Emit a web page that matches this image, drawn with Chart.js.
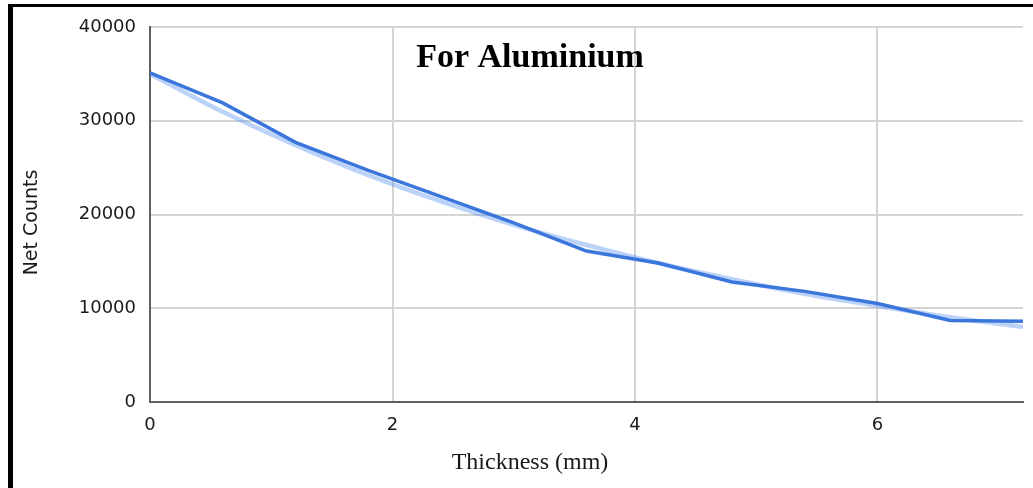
<!DOCTYPE html>
<html><head><meta charset="utf-8">
<script src="https://cdn.jsdelivr.net/npm/chart.js@4/dist/chart.umd.min.js"></script>
<style>
html,body{margin:0;padding:0;background:#fff;overflow:hidden}
#wrap{position:relative;width:1033px;height:488px}
#c{display:block;width:1033px;height:488px}
#frame{position:absolute;left:8px;top:4px;right:0;bottom:0;border-left:5px solid #000;border-top:3px solid #000;pointer-events:none}
</style></head><body>
<div id="wrap"><canvas id="c" width="1033" height="488"></canvas><div id="frame"></div></div>
<script>
// ---- data ----
const thicknessMm = [0, 0.6, 1.2, 1.8, 2.4, 3.0, 3.6, 4.2, 4.8, 5.4, 6.0, 6.6, 7.2];
const netCounts   = [35100, 31900, 27700, 24700, 21900, 19100, 16100, 14800, 12800, 11800, 10500, 8700, 8600];
const trendCounts = [35000, 30950, 27400, 24200, 21400, 18900, 16750, 14800, 13100, 11550, 10250, 9050, 8000];
const xTickValues = [0, 2, 4, 6];
const yTickValues = [0, 10000, 20000, 30000, 40000];
const chartTitle = 'For Aluminium';
const xAxisTitle = 'Thickness (mm)';
const yAxisTitle = 'Net Counts';

const textPlugin = {
  id: 'textPlugin',
  afterDraw(chart) {
    const ctx = chart.ctx;
    ctx.save();
    ctx.fillStyle = '#000';
    ctx.font = 'bold 34px "Liberation Serif"';
    ctx.textAlign = 'center';
    ctx.textBaseline = 'alphabetic';
    ctx.fillText(chartTitle, 530, 67);

    ctx.fillStyle = '#1a1a1a';
    ctx.font = '24px "Liberation Serif"';
    ctx.fillText(xAxisTitle, 530, 469);

    ctx.font = '19px "DejaVu Sans"';
    ctx.translate(37, 222.5);
    ctx.rotate(-Math.PI / 2);
    ctx.fillText(yAxisTitle, 0, 0);
    ctx.restore();
  }
};

const tickFont = { family: '"DejaVu Sans"', size: 18 };

new Chart(document.getElementById('c'), {
  type: 'line',
  data: {
    datasets: [
      {
        label: 'Net Counts',
        data: thicknessMm.map((x, i) => ({ x: x, y: netCounts[i] })),
        borderColor: '#3a76dc',
        borderWidth: 3.5,
        pointRadius: 0,
        tension: 0,
        order: 0
      },
      {
        label: 'Trendline',
        data: thicknessMm.map((x, i) => ({ x: x, y: trendCounts[i] })),
        borderColor: 'rgba(80,140,240,0.38)',
        borderWidth: 4.5,
        pointRadius: 0,
        cubicInterpolationMode: 'monotone',
        order: 1
      }
    ]
  },
  options: {
    responsive: false,
    animation: false,
    devicePixelRatio: 1,
    layout: { padding: { left: 0, right: 10, top: 27, bottom: 0 } },
    plugins: { legend: { display: false }, tooltip: { enabled: false }, title: { display: false } },
    scales: {
      x: {
        type: 'linear',
        min: 0,
        max: 7.2,
        afterBuildTicks: s => { s.ticks = xTickValues.map(v => ({ value: v })); },
        afterFit: s => { s.height = 86; },
        ticks: { font: tickFont, color: '#1a1a1a', padding: 13, maxRotation: 0, callback: v => String(v) },
        grid: { color: '#d4d4d4', lineWidth: 2, drawTicks: false },
        border: { display: true, color: '#5f5f5f', width: 2 }
      },
      y: {
        type: 'linear',
        min: 0,
        max: 40000,
        afterBuildTicks: s => { s.ticks = yTickValues.map(v => ({ value: v })); },
        afterFit: s => { s.width = 150; },
        ticks: { font: tickFont, color: '#1a1a1a', padding: 14, callback: v => String(v) },
        grid: { color: '#d4d4d4', lineWidth: 2, drawTicks: false },
        border: { display: true, color: '#5f5f5f', width: 2 }
      }
    }
  },
  plugins: [textPlugin]
});
</script>
</body></html>
